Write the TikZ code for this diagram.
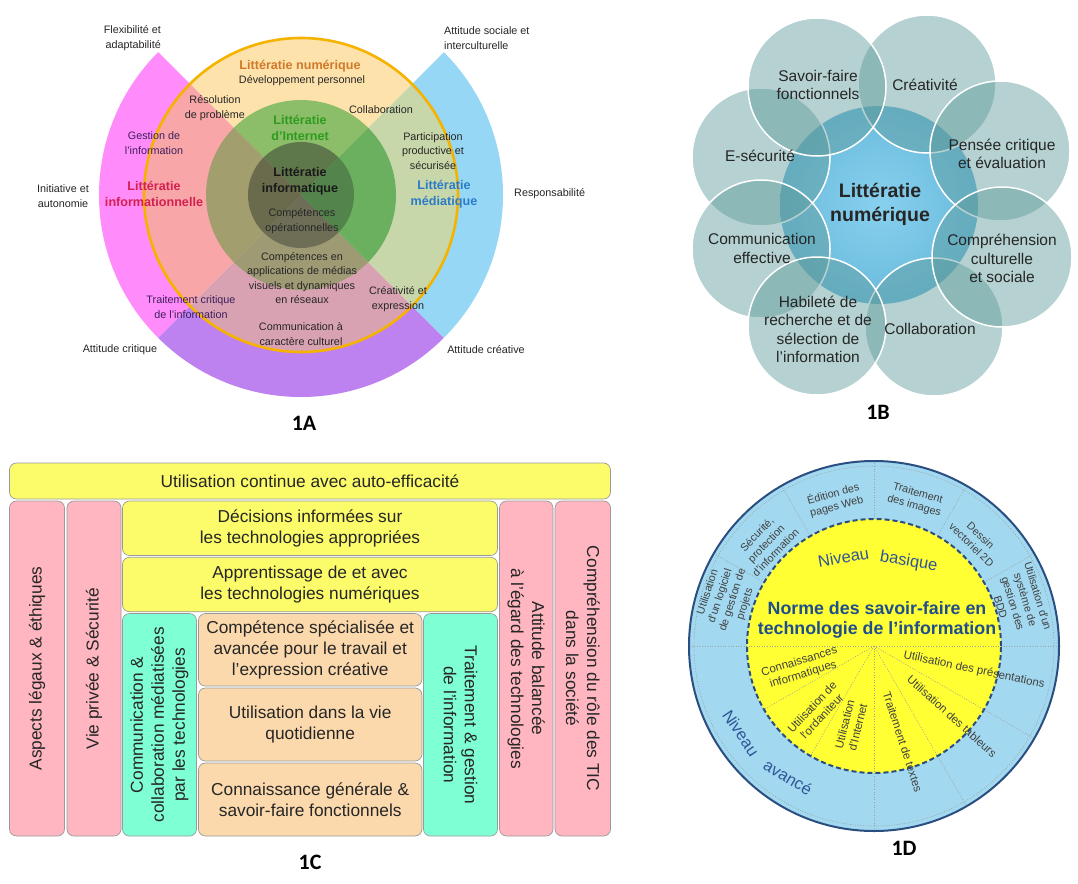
\documentclass[tikz,border=0pt]{standalone}
\usepackage{fontspec}
\setmainfont{Liberation Sans}
\newfontfamily\calib{Carlito}
\newcommand\mypie[4]{\fill[#1] (0,0) -- (#2:#4pt) arc[start angle=#2,end angle=#3,radius=#4pt] -- cycle;}
\newcommand\myansec[5]{\fill[#1] (#2:#4pt) -- (#2:#5pt) arc[start angle=#2,end angle=#3,radius=#5pt] -- (#3:#4pt) arc[start angle=#3,end angle=#2,radius=#4pt] -- cycle;}
\newcommand\fsA{\fontsize{10.8}{14.3}\selectfont}
\newcommand\fsAb{\bfseries\fontsize{12.6}{16}\selectfont}
\newcommand\fsB{\fontsize{15.5}{18.3}\selectfont}
\newcommand\fsBb{\bfseries\fontsize{19.5}{24}\selectfont}
\newcommand\fsC{\fontsize{17.3}{21}\selectfont}
\newcommand\fsDs{\fontsize{10.8}{13}\selectfont}
\newcommand\fsDl{\fontsize{11.5}{13.5}\selectfont}
\newcommand\fsDn{\fontsize{16.5}{18}\selectfont}
\newcommand\fsDt{\bfseries\fontsize{17.8}{20.5}\selectfont}
\newcommand\fsP{\calib\bfseries\fontsize{22}{22}\selectfont}
\definecolor{mag}{HTML}{FF8CFA}
\definecolor{lblue}{HTML}{96D7F5}
\definecolor{purp}{HTML}{BE82F0}
\definecolor{salm}{HTML}{F8A6A8}
\definecolor{peach}{HTML}{FDE2AB}
\definecolor{gbeige}{HTML}{C8D7AA}
\definecolor{mauve}{HTML}{D8A2B2}
\definecolor{gTop}{HTML}{8CBE69}
\definecolor{gLeft}{HTML}{A39E6E}
\definecolor{gBot}{HTML}{9E9A74}
\definecolor{gRight}{HTML}{6BB05F}
\definecolor{dTop}{HTML}{5F784B}
\definecolor{dLeft}{HTML}{6A6A4C}
\definecolor{dBot}{HTML}{6E6D56}
\definecolor{dRight}{HTML}{52844C}
\definecolor{ringc}{HTML}{F5B300}
\definecolor{tNum}{HTML}{CF7A2A}
\definecolor{tInt}{HTML}{2E9B20}
\definecolor{tInf}{HTML}{D42050}
\definecolor{tMed}{HTML}{2B7BC9}
\definecolor{tPur}{HTML}{3D1F5C}
\definecolor{tDark}{HTML}{262626}
\definecolor{petalc}{HTML}{5F9B9B}
\definecolor{cenIn}{HTML}{88D0EE}
\definecolor{cenOut}{HTML}{6ABBDD}
\definecolor{cYel}{HTML}{FCFC6A}
\definecolor{cPink}{HTML}{FFB6C1}
\definecolor{cTeal}{HTML}{7FFFD4}
\definecolor{cOra}{HTML}{FBD9AC}
\definecolor{boxline}{HTML}{9A9A9A}
\definecolor{dRing}{HTML}{A3D9F0}
\definecolor{dYel}{HTML}{FFFF33}
\definecolor{dBlue}{HTML}{2B4E80}
\definecolor{dTitle}{HTML}{1F4E8C}
\definecolor{dNiv}{HTML}{2F5597}
\definecolor{dTxt}{HTML}{404040}
\begin{document}
\begin{tikzpicture}[x=1pt,y=-1pt,
  la/.style={font=\fsA,align=center,inner sep=0,text=tDark},
  lat/.style={font=\fsAb,align=center,inner sep=0},
  lb/.style={font=\fsB,align=center,inner sep=0,text=tDark},
  petal/.style={fill=petalc,fill opacity=0.46,draw=white,line width=1.5pt},
  cbox/.style={draw=boxline,line width=0.7pt,rounded corners=7pt,font=\fsC,align=center,text=tDark,inner sep=0},
  ld/.style={font=\fsDs,align=center,inner sep=0,text=dTxt},
  ldl/.style={font=\fsDl,align=center,inner sep=0,text=dTxt},
  ldn/.style={font=\fsDn,inner sep=0,text=dNiv},
  dotl/.style={draw=gray!75,line width=0.6pt,dash pattern=on 1pt off 1.6pt},
  plab/.style={font=\fsP,inner sep=0}]
\useasboundingbox (0,0) rectangle (1078,883);
\fill[white] (0,0) rectangle (1078,883);

% ================= 1A =================
\begin{scope}[shift={(301,195)}]
  \myansec{mag}{135}{225}{157}{202}
  \myansec{purp}{225}{315}{157}{202}
  \myansec{lblue}{-45}{45}{157}{202}
  \mypie{peach}{45}{135}{157}
  \mypie{salm}{135}{225}{157}
  \mypie{mauve}{225}{315}{157}
  \mypie{gbeige}{-45}{45}{157}
  \mypie{gTop}{45}{135}{95}
  \mypie{gLeft}{135}{225}{95}
  \mypie{gBot}{225}{315}{95}
  \mypie{gRight}{-45}{45}{95}
  \mypie{dTop}{45}{135}{53}
  \mypie{dLeft}{135}{225}{53}
  \mypie{dBot}{225}{315}{53}
  \mypie{dRight}{-45}{45}{53}
  \draw[ringc,line width=2.6pt] (0,0) circle[radius=157pt];
\end{scope}
\node[la,anchor=east,align=right] (a1) at (161,38) {Flexibilité et\\adaptabilité};
\node[la,anchor=west,align=left] (a2) at (444,38) {Attitude sociale et\\interculturelle};
\node[la] (a3) at (63,196) {Initiative et\\autonomie};
\node[la,anchor=west] (a4) at (514,194) {Responsabilité};
\node[la] (a5) at (120,350) {Attitude critique};
\node[la] (a6) at (486,350) {Attitude créative};
\node[lat,text=tNum] (a7) at (300,66) {Littératie numérique};
\node[la] (a8) at (302,81) {Développement personnel};
\node[la] (a9) at (215,108) {Résolution\\de problème};
\node[la] (a10) at (381,110) {Collaboration};
\node[lat,text=tInt] (a11) at (300,128) {Littératie\\d'Internet};
\node[la,text=tPur] (a12) at (154,143) {Gestion de\\l'information};
\node[la] (a13) at (433,151) {Participation\\productive et\\sécurisée};
\node[lat,text=tInf] (a14) at (154,194) {Littératie\\informationnelle};
\node[lat,text=black!90] (a15) at (300,181) {Littératie\\informatique};
\node[lat,text=tMed] (a16) at (444,194) {Littératie\\médiatique};
\node[la] (a17) at (302,221) {Compétences\\opérationnelles};
\node[la] (a18) at (302,278) {Compétences en\\applications de médias\\visuels et dynamiques\\en réseaux};
\node[la] (a19) at (398,299) {Créativité et\\expression};
\node[la,text=tPur] (a20) at (191,307) {Traitement critique\\de l'information};
\node[la] (a21) at (301,334) {Communication à\\caractère culturel};
\node[plab] (a22) at (304,423) {1A};

% ================= 1B =================
\shade[inner color=cenIn,outer color=cenOut] (879,205) circle[radius=99pt];
\filldraw[petal] (761,157) circle[radius=69pt];
\filldraw[petal] (927,84) circle[radius=69pt];
\filldraw[petal] (934,327) circle[radius=69pt];
\filldraw[petal] (817,87) circle[radius=69pt];
\filldraw[petal] (1000,151) circle[radius=70pt];
\filldraw[petal] (1002,257) circle[radius=70pt];
\filldraw[petal] (761,249) circle[radius=69pt];
\filldraw[petal] (817,326) circle[radius=69pt];
\node[lb] (b1) at (818,85) {Savoir-faire\\fonctionnels};
\node[lb] (b2) at (925,85) {Créativité};
\node[lb] (b3) at (1002,154) {Pensée critique\\et évaluation};
\node[lb] (b4) at (760,156) {E-sécurité};
\node[lb,font=\fsBb] (b5) at (880,204) {Littératie\\numérique};
\node[lb] (b6) at (762,248.5) {Communication\\effective};
\node[lb] (b7) at (1002,258.5) {Compréhension\\culturelle\\et sociale};
\node[lb] (b8) at (818,329.5) {Habileté de\\recherche et de\\sélection de\\l'information};
\node[lb] (b9) at (930,329) {Collaboration};
\node[plab] (b10) at (878,412) {1B};

% ================= 1C =================
\node[cbox,fill=cYel,minimum width=601pt,minimum height=36pt] (c1) at (310,481) {Utilisation continue avec auto-efficacité};
\node[cbox,fill=cPink,rotate=90,minimum width=335pt,minimum height=55pt] (c2) at (37,668.5) {Aspects légaux \& éthiques};
\node[cbox,fill=cPink,rotate=90,minimum width=335pt,minimum height=54pt] (c3) at (94,668.5) {Vie privée \& Sécurité};
\node[cbox,fill=cYel,minimum width=375pt,minimum height=54.5pt] (c4) at (310,528.3) {Décisions informées sur\\les technologies appropriées};
\node[cbox,fill=cYel,minimum width=375pt,minimum height=54.5pt] (c5) at (310,584.5) {Apprentissage de et avec\\les technologies numériques};
\node[cbox,fill=cTeal,rotate=90,minimum width=222.5pt,minimum height=74pt] (c6) at (159.5,724.8) {Communication \&\\collaboration médiatisées\\par les technologies};
\node[cbox,fill=cOra,minimum width=223.5pt,minimum height=72.5pt] (c7) at (310.2,649.8) {Compétence spécialisée et\\avancée pour le travail et\\l'expression créative};
\node[cbox,fill=cOra,minimum width=223.5pt,minimum height=73pt] (c8) at (310.2,724.5) {Utilisation dans la vie\\quotidienne};
\node[cbox,fill=cOra,minimum width=223.5pt,minimum height=73pt] (c9) at (310.2,799.5) {Connaissance générale \&\\savoir-faire fonctionnels};
\node[cbox,fill=cTeal,rotate=-90,minimum width=222.5pt,minimum height=74pt] (c10) at (460.5,724.8) {Traitement \& gestion\\de l'information};
\node[cbox,fill=cPink,rotate=-90,minimum width=335pt,minimum height=53.5pt] (c11) at (526.3,668.5) {Attitude balancée\\à l'égard des technologies};
\node[cbox,fill=cPink,rotate=-90,minimum width=335pt,minimum height=55.5pt] (c12) at (582.8,668.5) {Compréhension du rôle des TIC\\dans la société};
\node[plab] (c13) at (310,862) {1C};

% ================= 1D =================
\begin{scope}[shift={(874,646)}]
  \fill[dRing] (0,0) circle[radius=185pt];
  \draw[dotl] (0,0) circle[radius=180pt];
  \fill[dYel] (0,0) circle[radius=127pt];
  \draw[dotl] (180:185pt) -- (0:185pt);
  \foreach \a in {30,60,90,120,150} \draw[dotl] (\a:127pt) -- (\a:185pt);
  \foreach \a in {210,240} \draw[dotl] (0,0) -- (\a:127pt);
  \foreach \a in {270,300,330} \draw[dotl] (0,0) -- (\a:185pt);
  \draw[dBlue,line width=2pt,dash pattern=on 5pt off 3pt] (0,0) circle[radius=127pt];
  \draw[dBlue,line width=2pt] (0,0) circle[radius=185pt];
  \node[ld,rotate=72] (d1) at (162:155pt) {Utilisation\\d'un logiciel\\de gestion de\\projets};
  \node[ld,rotate=46] (d2) at (136.4:149pt) {Sécurité,\\protection\\d'information};
  \node[ld,rotate=15] (d3) at (105:151pt) {Édition des\\pages Web};
  \node[ld,rotate=-16] (d4) at (74:152pt) {Traitement\\des images};
  \node[ld,rotate=-44] (d5) at (46:147pt) {Dessin\\vectoriel 2D};
  \node[ld,rotate=-73] (d6) at (17:152pt) {Utilisation d'un\\système de\\gestion des\\BDD};
  \node[ldl,rotate=17] (d7) at (197:76pt) {Connaissances\\informatiques};
  \node[ldl,rotate=47] (d8) at (229:87pt) {Utilisation de\\l'ordaniteur};
  \node[ldl,rotate=76] (d9) at (254:83pt) {Utilisation\\d'Internet};
  \node[ldl,rotate=-72] (d10) at (286.7:100pt) {Traitement de textes};
  \node[ldl,rotate=-42] (d11) at (318:105pt) {Utilisation des tableurs};
  \node[ldl,rotate=-12] (d12) at (346.5:103pt) {Utilisation des présentations};
  \node[ldn,rotate=10] (d13) at (109:94pt) {Niveau};
  \node[ldn,rotate=-10] (d14) at (67.6:91pt) {basique};
  \node[ldn,rotate=-56] (d15) at (213.2:159pt) {Niveau};
  \node[ldn,rotate=-31] (d16) at (236.7:156.7pt) {avancé};
\end{scope}
\node[font=\fsDt,text=dTitle,align=center,inner sep=0] (d17) at (877,620) {Norme des savoir-faire en\\technologie de l'information};
\node[plab] (d18) at (904,848) {1D};
\end{tikzpicture}
\end{document}
